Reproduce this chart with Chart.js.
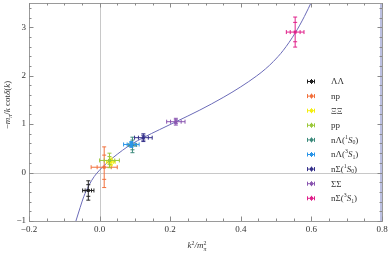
<!DOCTYPE html>
<html>
<head>
<meta charset="utf-8">
<script src="https://cdn.jsdelivr.net/npm/chart.js@4/dist/chart.umd.min.js"></script>
<style>
  html, body { margin: 0; padding: 0; background: #fff; }
  #wrap { width: 391px; height: 254px; }
</style>
</head>
<body>
<div id="wrap"><canvas id="plot" width="391" height="254"></canvas></div>
<script>
// series
const names = ["ΛΛ", "np", "ΞΞ", "pp", "nΛ(1S0)", "nΛ(3S1)", "nΣ(1S0)", "ΣΣ", "nΣ(3S1)"];
const colors = ["#222222", "#f2703c", "#f4ee10", "#9bc83a", "#3d8a7c", "#2a95e8", "#35308a", "#8a55b0", "#e0208a"];
const xs = [-0.032, 0.013, 0.032, 0.028, 0.093, 0.090, 0.124, 0.216, 0.554];
const ys = [-0.37, 0.11, 0.22, 0.25, 0.57, 0.58, 0.72, 1.05, 2.90];
const xErrOut = [0.016, 0.037, 0.012, 0.028, 0.012, 0.022, 0.025, 0.026, 0.025];
const xErrIn = [0.009, 0.020, 0.007, 0.015, 0.007, 0.012, 0.014, 0.015, 0.014];
const yErrOut = [0.20, 0.42, 0.08, 0.15, 0.16, 0.06, 0.08, 0.07, 0.31];
const yErrIn = [0.12, 0.25, 0.05, 0.08, 0.10, 0.04, 0.05, 0.04, 0.20];

// fit curve, sampled by eye
const curveX = [-0.068, -0.055, -0.045, -0.030, -0.015, 0.000, 0.015, 0.035, 0.065, 0.090, 0.125, 0.170, 0.216, 0.284, 0.350, 0.400, 0.445, 0.470, 0.492, 0.520, 0.554, 0.580, 0.602];
const curveY = [-1.02, -0.72, -0.50, -0.26, -0.08, 0.05, 0.16, 0.29, 0.46, 0.585, 0.725, 0.887, 1.048, 1.29, 1.55, 1.77, 1.995, 2.14, 2.29, 2.52, 2.88, 3.22, 3.55];

const xMajor = [-0.2, 0.0, 0.2, 0.4, 0.6, 0.8];
const xLabels = ["−0.2", "0.0", "0.2", "0.4", "0.6", "0.8"];
const yMajor = [-1, 0, 1, 2, 3];
const yLabels = ["−1", "0", "1", "2", "3"];

const serif = '"Liberation Serif", "DejaVu Serif", serif';

function partFont(m, size) {
  const small = (m === 'sup' || m === 'sub' || m === 'isub' || m === 'isupsub');
  const it = (m === 'i' || m === 'isub' || m === 'isupsub');
  return (it ? 'italic ' : '') + (small ? size * 0.65 : size) + 'px ' + serif;
}

function richText(ctx, x, y, parts, size) {
  // parts: [text, mode]; 'isupsub' takes "sup|sub"
  let cx = x;
  for (const [t, m] of parts) {
    ctx.font = partFont(m, size);
    if (m === 'isupsub') {
      const [a, b] = t.split('|');
      ctx.font = (size * 0.65) + 'px ' + serif;
      ctx.fillText(a, cx, y - size * 0.38);
      const wa = ctx.measureText(a).width;
      ctx.font = 'italic ' + (size * 0.65) + 'px ' + serif;
      ctx.fillText(b, cx, y + size * 0.28);
      cx += Math.max(wa, ctx.measureText(b).width);
      continue;
    }
    let dy = 0;
    if (m === 'sup') dy = -size * 0.38;
    if (m === 'sub' || m === 'isub') dy = size * 0.25;
    ctx.fillText(t, cx, y + dy);
    cx += ctx.measureText(t).width;
  }
  return cx - x;
}

function measureRich(ctx, parts, size) {
  let w = 0;
  for (const [t, m] of parts) {
    ctx.font = partFont(m, size);
    if (m === 'isupsub') {
      w += Math.max(...t.split('|').map(s => ctx.measureText(s).width));
    } else {
      w += ctx.measureText(t).width;
    }
  }
  return w;
}

function legendParts(name) {
  const m = name.match(/^(.*)\((\d)S(\d)\)$/);
  if (!m) return [[name, '']];
  return [[m[1] + '(', ''], [m[2], 'sup'], ['S', 'i'], [m[3], 'sub'], [')', '']];
}

function drawErr(ctx, sx, sy, i) {
  const px = sx.getPixelForValue(xs[i]), py = sy.getPixelForValue(ys[i]);
  const xo = sx.getPixelForValue(xs[i] + xErrOut[i]) - px;
  const xi = sx.getPixelForValue(xs[i] + xErrIn[i]) - px;
  const yo = py - sy.getPixelForValue(ys[i] + yErrOut[i]);
  const yi = py - sy.getPixelForValue(ys[i] + yErrIn[i]);
  ctx.strokeStyle = colors[i];
  ctx.lineWidth = 1;
  ctx.beginPath();
  ctx.moveTo(px - xo, py); ctx.lineTo(px + xo, py);
  ctx.moveTo(px, py - yo); ctx.lineTo(px, py + yo);
  const c = 2;
  for (const d of [xo, xi]) {
    ctx.moveTo(px - d, py - c); ctx.lineTo(px - d, py + c);
    ctx.moveTo(px + d, py - c); ctx.lineTo(px + d, py + c);
  }
  for (const d of [yo, yi]) {
    ctx.moveTo(px - c, py - d); ctx.lineTo(px + c, py - d);
    ctx.moveTo(px - c, py + d); ctx.lineTo(px + c, py + d);
  }
  ctx.stroke();
  ctx.fillStyle = colors[i];
  ctx.fillRect(px - 1.5, py - 1.5, 3, 3);
}

const framePlugin = {
  id: 'frame',
  beforeDatasetsDraw(chart) {
    const ctx = chart.ctx, a = chart.chartArea;
    const sx = chart.scales.x, sy = chart.scales.y;
    ctx.save();
    ctx.strokeStyle = '#c8c8c8';
    ctx.lineWidth = 1;
    ctx.beginPath();
    const x0 = Math.round(sx.getPixelForValue(0)) + 0.5;
    const y0 = Math.round(sy.getPixelForValue(0)) + 0.5;
    ctx.moveTo(x0, a.top); ctx.lineTo(x0, a.bottom);
    ctx.moveTo(a.left, y0); ctx.lineTo(a.right, y0);
    ctx.stroke();
    ctx.restore();
  },
  afterDatasetsDraw(chart) {
    const ctx = chart.ctx, a = chart.chartArea;
    const sx = chart.scales.x, sy = chart.scales.y;
    ctx.save();
    for (let i = 0; i < names.length; i++) drawErr(ctx, sx, sy, i);

    // frame
    ctx.fillStyle = '#bcc0e2';
    ctx.fillRect(a.right - 2, a.top, 3, a.bottom - a.top);
    ctx.strokeStyle = '#9a9a9a';
    ctx.lineWidth = 1;
    ctx.strokeRect(Math.round(a.left) + 0.5, Math.round(a.top) + 0.5,
      Math.round(a.right - a.left), Math.round(a.bottom - a.top));

    // ticks
    ctx.strokeStyle = '#8a8a8a';
    ctx.beginPath();
    for (let k = 0; k <= 20; k++) {
      const v = -0.2 + k * 0.05;
      const p = Math.round(sx.getPixelForValue(v)) + 0.5;
      const len = (k % 4 === 0) ? 4.5 : 2.5;
      ctx.moveTo(p, a.bottom); ctx.lineTo(p, a.bottom - len);
      ctx.moveTo(p, a.top); ctx.lineTo(p, a.top + len);
    }
    for (let k = 0; k <= 22; k++) {
      const v = -1 + k * 0.2;
      const p = Math.round(sy.getPixelForValue(v)) + 0.5;
      const len = (k % 5 === 0) ? 4.5 : 2.5;
      ctx.moveTo(a.left, p); ctx.lineTo(a.left + len, p);
      ctx.moveTo(a.right, p); ctx.lineTo(a.right - len, p);
    }
    ctx.stroke();

    // tick labels
    ctx.fillStyle = '#333';
    ctx.font = '9px ' + serif;
    ctx.textAlign = 'center';
    ctx.textBaseline = 'top';
    xMajor.forEach((v, i) => ctx.fillText(xLabels[i], sx.getPixelForValue(v), a.bottom + 4));
    ctx.textAlign = 'right';
    ctx.textBaseline = 'middle';
    yMajor.forEach((v, i) => ctx.fillText(yLabels[i], a.left - 3, sy.getPixelForValue(v)));

    // axis titles
    ctx.textAlign = 'left';
    ctx.textBaseline = 'alphabetic';
    const xt = [['k', 'i'], ['2', 'sup'], ['/', 'i'], ['m', 'i'], ['2|π', 'isupsub']];
    const xw = measureRich(ctx, xt, 9);
    richText(ctx, 197 - xw / 2, 248, xt, 9);
    ctx.save();
    ctx.translate(10, 105);
    ctx.rotate(-Math.PI / 2);
    const yt = [['−', ''], ['m', 'i'], ['π', 'isub'], ['/', ''], ['k', 'i'], [' cot', ''], ['δ', 'i'], ['(', ''], ['k', 'i'], [')', '']];
    const yw = measureRich(ctx, yt, 9);
    richText(ctx, -yw / 2, 0, yt, 9);
    ctx.restore();

    // legend
    const lx = 311, ly = 81, step = 14.6;
    for (let i = 0; i < names.length; i++) {
      const yy = ly + i * step;
      ctx.strokeStyle = colors[i];
      ctx.beginPath();
      ctx.moveTo(lx - 4, yy + 0.5); ctx.lineTo(lx + 4, yy + 0.5);
      ctx.moveTo(lx - 3.5, yy - 1.5); ctx.lineTo(lx - 3.5, yy + 2.5);
      ctx.moveTo(lx + 3.5, yy - 1.5); ctx.lineTo(lx + 3.5, yy + 2.5);
      ctx.moveTo(lx + 0.5, yy - 2); ctx.lineTo(lx + 0.5, yy + 3);
      ctx.stroke();
      ctx.fillStyle = colors[i];
      ctx.fillRect(lx - 1, yy - 1, 3, 3);
      ctx.fillStyle = '#333';
      ctx.textBaseline = 'middle';
      richText(ctx, 331, yy + 1, legendParts(names[i]), 9);
    }
    ctx.restore();
  }
};

new Chart(document.getElementById('plot'), {
  type: 'scatter',
  data: {
    datasets: [{
      label: 'fit',
      data: curveX.map((x, i) => ({ x: x, y: curveY[i] })),
      showLine: true,
      borderColor: '#6b6bb8',
      borderWidth: 1,
      pointRadius: 0,
      cubicInterpolationMode: 'monotone',
      fill: false
    }]
  },
  options: {
    responsive: false,
    animation: false,
    events: [],
    layout: { padding: { left: 29, right: 9, top: 3, bottom: 33 } },
    plugins: { legend: { display: false }, tooltip: { enabled: false } },
    scales: {
      x: { type: 'linear', min: -0.2, max: 0.8, display: false },
      y: { type: 'linear', min: -1, max: 3.5, display: false }
    }
  },
  plugins: [framePlugin]
});
</script>
</body>
</html>
